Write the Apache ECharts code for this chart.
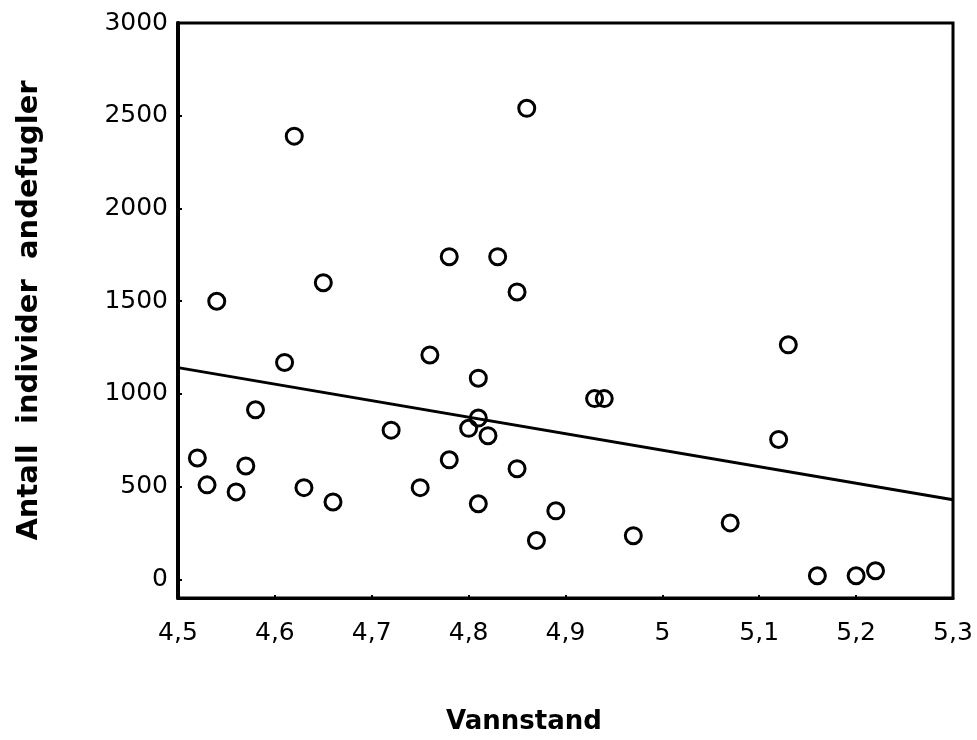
<!DOCTYPE html>
<html>
    <head>
        <meta charset="utf-8">
        <title>Vannstand</title>
        <style>html,body{margin:0;padding:0;background:#fff}#chart{width:977px;height:740px}</style>
    </head>
    <body>
        <div id="chart"></div>
        <script type="text/javascript" src="https://fastly.jsdelivr.net/npm/echarts@6/dist/echarts.min.js"></script>
        <script>
            // vannstand (x) og antall andefugler (y), lest av figuren
            const vannstand = [4.62, 4.86, 4.54, 4.65, 4.78, 4.83, 4.85, 4.61, 4.76, 4.81, 5.13, 4.93,
                               4.94, 4.58, 4.81, 4.80, 4.82, 4.72, 5.12, 4.52, 4.57, 4.78, 4.85, 4.53,
                               4.56, 4.63, 4.75, 4.66, 4.81, 4.89, 4.87, 4.97, 5.07, 5.16, 5.20, 5.22];
            const antall = [2390, 2540, 1500, 1600, 1740, 1740, 1550, 1170, 1210, 1085, 1265, 975,
                            975, 915, 870, 815, 775, 805, 755, 655, 612, 645, 597, 510,
                            472, 495, 495, 418, 408, 370, 210, 236, 305, 20, 20, 47];
            // regresjonslinje
            const linjeX = [4.5, 5.3];
            const linjeY = [1142, 430];
            const yTicks = [0, 500, 1000, 1500, 2000, 2500, 3000];

            const chart = echarts.init(document.getElementById('chart'));
            const font = 'DejaVu Sans';

            chart.setOption({
                animation: false,
                backgroundColor: '#fff',
                title: {
                    text: 'Vannstand',
                    left: 446,
                    top: 709,
                    padding: 0,
                    textStyle: { fontFamily: font, fontSize: 26, fontWeight: 'bold', color: '#000' }
                },
                grid: {
                    left: 178, right: 24, top: 23, bottom: 142,
                    show: true, borderColor: '#000', borderWidth: 3, backgroundColor: 'transparent'
                },
                xAxis: {
                    type: 'value',
                    min: 4.5,
                    max: 5.3,
                    interval: 0.1,
                    splitLine: { show: false },
                    axisLine: { onZero: false, lineStyle: { color: '#000', width: 3 } },
                    axisTick: { inside: true, length: 3, lineStyle: { color: '#000', width: 2 } },
                    axisLabel: {
                        margin: 23,
                        color: '#000',
                        fontFamily: font,
                        fontSize: 25,
                        showMaxLabel: true,
                        formatter: v => String(Math.round(v * 10) / 10).replace('.', ',')
                    }
                },
                yAxis: {
                    type: 'value',
                    min: -100,
                    max: 3000,
                    name: 'Antall  individer  andefugler',
                    nameLocation: 'middle',
                    nameGap: 134,
                    nameTextStyle: { fontFamily: font, fontSize: 29, fontWeight: 'bold', color: '#000' },
                    splitLine: { show: false },
                    axisLine: { onZero: false, lineStyle: { color: '#000', width: 4 } },
                    axisTick: { inside: true, length: 4, customValues: yTicks, lineStyle: { color: '#000', width: 2 } },
                    axisLabel: {
                        margin: 10,
                        color: '#000',
                        fontFamily: font,
                        fontSize: 25,
                        customValues: yTicks,
                        formatter: v => String(v)
                    }
                },
                series: [
                    {
                        type: 'line',
                        data: linjeX.map((x, i) => [x, linjeY[i]]),
                        symbol: 'none',
                        lineStyle: { color: '#000', width: 3 },
                        z: 1
                    },
                    {
                        type: 'scatter',
                        data: vannstand.map((x, i) => [x, antall[i]]),
                        symbol: 'circle',
                        symbolSize: 16,
                        itemStyle: { color: 'rgba(0,0,0,0)', borderColor: '#000', borderWidth: 3, opacity: 1 },
                        z: 2
                    }
                ]
            });
        </script>
    </body>
</html>
